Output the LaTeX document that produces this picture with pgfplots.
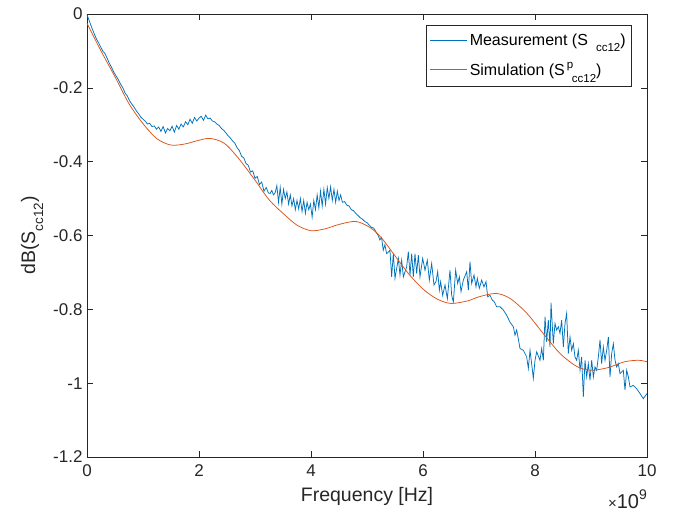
\documentclass[border=0pt]{standalone}
\usepackage{pgfplots}
\pgfplotsset{compat=1.18}
\usepackage{fontspec}
\setmainfont{Liberation Sans}
\usetikzlibrary{calc}
\definecolor{mblue}{rgb}{0,0.447,0.741}
\definecolor{morange}{rgb}{0.85,0.325,0.098}
\definecolor{axgray}{rgb}{0.15,0.15,0.15}
\newcommand{\lsub}[2]{\raisebox{#1}{\fontsize{11.5}{11.5}\selectfont #2}}
\begin{document}
\begin{tikzpicture}
\begin{axis}[
  width=560pt, height=443pt, scale only axis,
  xmin=0, xmax=10, ymin=-1.2, ymax=0,
  xtick={0,2,4,6,8,10}, xticklabels={0,2,4,6,8,10},
  ytick={-1.2,-1,-0.8,-0.6,-0.4,-0.2,0},
  yticklabels={-1.2,-1,-0.8,-0.6,-0.4,-0.2,0},
  tick align=inside, major tick length=5.6pt,
  axis line style={axgray, line width=0.5pt},
  every tick/.style={axgray, line width=0.5pt},
  tick label style={font=\fontsize{17}{17}\selectfont, text=axgray},
  xticklabel style={yshift=-4pt},
  yticklabel style={xshift=-1pt},
  label style={font=\fontsize{19.5}{20}\selectfont, text=axgray},
  xlabel={Frequency [Hz]},
  ylabel={dB(S\raisebox{-8pt}{\fontsize{13.5}{13.5}\selectfont cc12})},
  xlabel style={at={(axis description cs:0.5,-0.088)}, anchor=center},
  ylabel style={at={(axis description cs:-0.098,0.5)}, anchor=center},
  legend style={at={(rel axis cs:0.973,0.975)}, anchor=north east,
    draw=axgray, line width=0.5pt, fill=white,
    font=\fontsize{16}{16}\selectfont, inner xsep=4pt, inner ysep=7pt,
    row sep=11pt, cells={anchor=west}},
  legend image code/.code={\draw[#1] (0pt,0pt) -- (37pt,0pt);},
]
\addplot[mblue, line width=0.75pt] coordinates {
(0.00,-0.002)(0.04,-0.018)(0.08,-0.035)(0.12,-0.05)(0.16,-0.065)(0.20,-0.076)
(0.24,-0.088)(0.28,-0.1)(0.32,-0.107)(0.36,-0.12)(0.40,-0.134)(0.44,-0.145)
(0.48,-0.158)(0.52,-0.168)(0.56,-0.178)(0.60,-0.19)(0.64,-0.2)(0.68,-0.214)
(0.72,-0.222)(0.76,-0.235)(0.80,-0.244)(0.84,-0.252)(0.88,-0.262)(0.92,-0.27)
(0.96,-0.279)(1.00,-0.285)(1.04,-0.29)(1.08,-0.298)(1.12,-0.296)(1.16,-0.305)
(1.20,-0.303)(1.24,-0.312)(1.28,-0.306)(1.32,-0.318)(1.36,-0.305)(1.40,-0.322)
(1.44,-0.31)(1.48,-0.316)(1.52,-0.304)(1.56,-0.32)(1.60,-0.302)(1.64,-0.312)
(1.68,-0.298)(1.72,-0.306)(1.76,-0.292)(1.80,-0.3)(1.84,-0.285)(1.88,-0.296)
(1.92,-0.28)(1.96,-0.29)(2.00,-0.282)(2.04,-0.277)(2.08,-0.288)(2.12,-0.274)
(2.16,-0.284)(2.20,-0.282)(2.24,-0.29)(2.28,-0.292)(2.32,-0.298)(2.36,-0.302)
(2.40,-0.31)(2.44,-0.315)(2.48,-0.322)(2.52,-0.33)(2.56,-0.336)(2.60,-0.344)
(2.64,-0.35)(2.68,-0.362)(2.72,-0.37)(2.76,-0.385)(2.80,-0.39)(2.84,-0.405)
(2.88,-0.41)(2.92,-0.428)(2.96,-0.425)(3.00,-0.445)(3.04,-0.44)(3.08,-0.462)
(3.12,-0.455)(3.16,-0.48)(3.20,-0.47)(3.24,-0.485)(3.27,-0.486)(3.30,-0.478)
(3.33,-0.49)(3.36,-0.484)(3.39,-0.465)(3.42,-0.51)(3.45,-0.47)(3.48,-0.515)
(3.51,-0.475)(3.54,-0.5)(3.57,-0.482)(3.60,-0.515)(3.63,-0.49)(3.66,-0.52)
(3.69,-0.5)(3.72,-0.53)(3.75,-0.505)(3.78,-0.528)(3.81,-0.5)(3.84,-0.535)
(3.87,-0.505)(3.90,-0.54)(3.93,-0.51)(3.96,-0.53)(3.99,-0.515)(4.02,-0.55)
(4.05,-0.505)(4.08,-0.53)(4.11,-0.49)(4.14,-0.525)(4.17,-0.48)(4.20,-0.52)
(4.23,-0.475)(4.26,-0.515)(4.29,-0.47)(4.32,-0.5)(4.35,-0.468)(4.38,-0.505)
(4.41,-0.475)(4.44,-0.51)(4.47,-0.48)(4.50,-0.505)(4.53,-0.49)(4.56,-0.51)
(4.60,-0.508)(4.64,-0.518)(4.68,-0.52)(4.72,-0.53)(4.76,-0.533)(4.80,-0.54)
(4.84,-0.546)(4.88,-0.552)(4.92,-0.556)(4.96,-0.562)(5.00,-0.565)(5.04,-0.572)
(5.08,-0.578)(5.12,-0.58)(5.16,-0.59)(5.20,-0.60)(5.23,-0.612)(5.26,-0.605)
(5.29,-0.64)(5.32,-0.625)(5.35,-0.649)(5.38,-0.645)(5.41,-0.64)(5.44,-0.712)
(5.47,-0.649)(5.50,-0.716)(5.56,-0.662)(5.589,-0.707)(5.619,-0.667)(5.649,-0.712)
(5.708,-0.685)(5.738,-0.644)(5.768,-0.707)(5.798,-0.649)(5.827,-0.712)(5.857,-0.649)
(5.887,-0.703)(5.917,-0.653)(5.946,-0.712)(5.994,-0.662)(6.036,-0.694)(6.077,-0.667)
(6.113,-0.721)(6.155,-0.676)(6.196,-0.734)(6.232,-0.725)(6.262,-0.698)(6.292,-0.748)
(6.315,-0.725)(6.351,-0.762)(6.393,-0.734)(6.435,-0.771)(6.482,-0.694)(6.512,-0.762)
(6.542,-0.780)(6.583,-0.694)(6.619,-0.730)(6.649,-0.712)(6.679,-0.752)(6.72,-0.721)
(6.78,-0.698)(6.81,-0.748)(6.839,-0.671)(6.869,-0.730)(6.911,-0.707)(6.946,-0.739)
(6.97,-0.716)(7.006,-0.743)(7.048,-0.721)(7.089,-0.739)(7.125,-0.725)(7.155,-0.766)
(7.196,-0.762)(7.238,-0.775)(7.274,-0.780)(7.315,-0.793)(7.375,-0.793)(7.435,-0.802)
(7.494,-0.816)(7.554,-0.835)(7.613,-0.847)(7.643,-0.870)(7.673,-0.856)(7.732,-0.906)
(7.792,-0.911)(7.851,-0.929)(7.881,-0.960)(7.911,-0.911)(7.94,-0.947)(7.97,-0.987)
(8.0,-0.938)(8.03,-0.915)(8.089,-0.938)(8.119,-0.906)(8.149,-0.938)(8.179,-0.820)
(8.208,-0.888)(8.238,-0.829)(8.268,-0.902)(8.286,-0.782)(8.327,-0.893)(8.357,-0.838)
(8.387,-0.856)(8.417,-0.847)(8.446,-0.865)(8.476,-0.829)(8.506,-0.902)(8.536,-0.838)
(8.565,-0.811)(8.595,-0.920)(8.625,-0.875)(8.655,-0.911)(8.685,-0.893)(8.714,-0.929)
(8.744,-0.938)(8.774,-0.911)(8.804,-0.965)(8.833,-0.929)(8.863,-1.037)(8.893,-0.938)
(8.923,-0.983)(8.952,-0.947)(8.982,-0.992)(9.012,-0.938)(9.042,-0.983)(9.071,-0.956)
(9.101,-0.965)(9.131,-0.929)(9.161,-0.883)(9.19,-0.947)(9.22,-0.902)(9.25,-0.938)
(9.28,-0.911)(9.31,-0.875)(9.339,-0.983)(9.369,-0.920)(9.399,-0.893)(9.429,-0.938)
(9.458,-0.956)(9.488,-0.947)(9.518,-0.974)(9.577,-0.965)(9.607,-1.019)(9.637,-0.965)
(9.667,-0.983)(9.696,-1.010)(9.756,-1.006)(9.815,-1.015)(9.875,-1.028)(9.934,-1.042)
(10.0,-1.028)
};
\addlegendentry{Measurement (S\hspace{8pt}\lsub{-6pt}{cc12})\hspace{-12pt}}
\addplot[morange, line width=0.75pt, smooth] coordinates {
(0,-0.025)(0.25,-0.10)(0.5,-0.17)(0.75,-0.243)(1.0,-0.297)(1.25,-0.338)
(1.5,-0.355)(1.75,-0.352)(2.0,-0.342)(2.2,-0.337)(2.45,-0.35)(2.7,-0.39)
(3.0,-0.45)(3.25,-0.503)(3.5,-0.54)(3.75,-0.572)(4.0,-0.587)(4.25,-0.582)
(4.5,-0.57)(4.8,-0.562)(5.05,-0.578)(5.25,-0.605)(5.5,-0.655)(5.75,-0.705)
(6.0,-0.745)(6.25,-0.772)(6.5,-0.784)(6.8,-0.777)(7.0,-0.766)(7.3,-0.757)
(7.55,-0.77)(7.85,-0.81)(8.15,-0.866)(8.45,-0.92)(8.75,-0.955)(9.0,-0.965)
(9.3,-0.958)(9.6,-0.942)(9.85,-0.938)(10,-0.942)
};
\addlegendentry{Simulation (S\hspace{2pt}\rlap{\lsub{7pt}{p}}\hspace{5pt}\lsub{-7pt}{cc12})}
\coordinate (SW) at (rel axis cs:0,0);
\coordinate (NE) at (rel axis cs:1,1);
\end{axis}
\node[anchor=base east, inner sep=0pt, text=axgray, font=\fontsize{20}{20}\selectfont] at ($(SW-|NE)+(0pt,-51pt)$) {{\fontsize{15}{15}\selectfont ×}10\raisebox{9pt}{\fontsize{14}{14}\selectfont 9}};
\pgfresetboundingbox
\path ($(SW)+(-87pt,-55pt)$) rectangle ($(NE)+(32pt,14pt)$);
\end{tikzpicture}
\end{document}
